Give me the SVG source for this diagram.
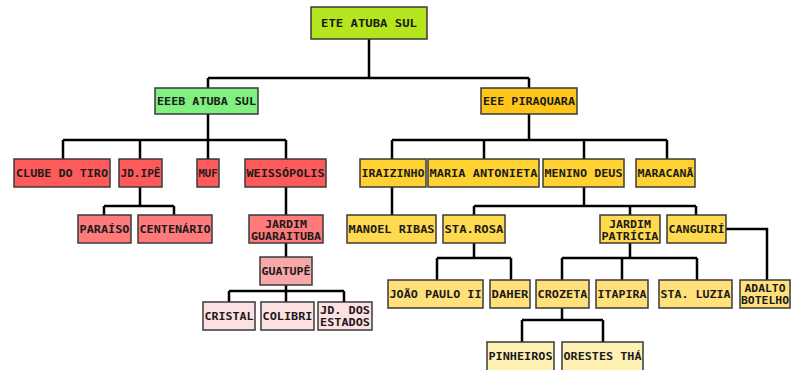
<svg xmlns="http://www.w3.org/2000/svg" width="791" height="370" viewBox="0 0 791 370">
<style>
.b{stroke:#3a3a3a;stroke-width:1.5}
.s{fill:none;stroke:#bbb;stroke-width:1}
text{font-family:"DejaVu Sans Mono","Liberation Mono",monospace;font-weight:bold;font-size:11px;fill:#1a1a1a;text-anchor:middle}
.c{fill:none;stroke:#000;stroke-width:2.5}
.lime{fill:#b5e61d}.grn{fill:#80f080}.gold{fill:#ffc619}
.r1{fill:#ff5a5a}.r2{fill:#ff7b7b}.r3{fill:#f8a8a8}.r4{fill:#fde0e2}
.y1{fill:#ffd232}.y2{fill:#ffd94e}.y3{fill:#ffe07a}.y4{fill:#fff0b4}
</style>
<rect width="791" height="370" fill="#fff"/>
<g id="connectors">
<path class="c" d="M369 39V78M208 78H529M208 78V88M529 78V89"/>
<path class="c" d="M208 114V140M63 140H286M63 140V159M140 140V159M208 140V159M286 140V159"/>
<path class="c" d="M529 114V140M392 140H667M392 140V159M484 140V159M584 140V159M667 140V159"/>
<path class="c" d="M140 187V206M104 206H174M104 206V215M174 206V215"/>
<path class="c" d="M286 187V215M392 187V215"/>
<path class="c" d="M584 187V206M474 206H696M474 206V215M630 206V215M696 206V215"/>
<path class="c" d="M286 243V257M286 285V291M229 291H344M229 291V302M286 291V302M344 291V302"/>
<path class="c" d="M474 243V258M437 258H511M437 258V280M511 258V280"/>
<path class="c" d="M630 243V258M562 258H697M562 258V280M622 258V280M697 258V280"/>
<path class="c" d="M726 229H767V280"/>
<path class="c" d="M562 308V320M522 320H603M522 320V342M603 320V342"/>
</g>
<g id="n-ete"><rect class="b lime" x="311" y="7" width="116" height="32"/><text x="369" y="27" textLength="96" lengthAdjust="spacingAndGlyphs">ETE ATUBA SUL</text></g>
<g id="n-eeeb"><rect class="b grn" x="155" y="88" width="103" height="26"/><text x="206.5" y="105" textLength="99" lengthAdjust="spacingAndGlyphs">EEEB ATUBA SUL</text></g>
<g id="n-eee"><rect class="b gold" x="481" y="88" width="96" height="26"/><text x="529" y="105" textLength="92" lengthAdjust="spacingAndGlyphs">EEE PIRAQUARA</text></g>

<g id="n-clube"><rect class="b r1" x="14" y="159" width="96" height="28"/><text x="62" y="177" textLength="92" lengthAdjust="spacingAndGlyphs">CLUBE DO TIRO</text></g>
<g id="n-jdipe"><rect class="b r1" x="119" y="159" width="43" height="28"/><text x="140.5" y="177" textLength="40" lengthAdjust="spacingAndGlyphs">JD.IPÊ</text></g>
<g id="n-muf"><rect class="b r1" x="197" y="159" width="22" height="28"/><text x="208" y="177" textLength="19" lengthAdjust="spacingAndGlyphs">MUF</text></g>
<g id="n-weiss"><rect class="b r1" x="245" y="159" width="81" height="28"/><text x="285.5" y="177" textLength="78" lengthAdjust="spacingAndGlyphs">WEISSÓPOLIS</text></g>
<g id="n-irai"><rect class="b y1" x="360" y="159" width="66" height="28"/><text x="393" y="177" textLength="63" lengthAdjust="spacingAndGlyphs">IRAIZINHO</text></g>
<g id="n-maria"><rect class="b y1" x="428" y="159" width="111" height="28"/><text x="483.5" y="177" textLength="108" lengthAdjust="spacingAndGlyphs">MARIA ANTONIETA</text></g>
<g id="n-menino"><rect class="b y1" x="543" y="159" width="81" height="28"/><text x="583.5" y="177" textLength="78" lengthAdjust="spacingAndGlyphs">MENINO DEUS</text></g>
<g id="n-maracana"><rect class="b y1" x="636" y="159" width="59" height="28"/><text x="665.5" y="177" textLength="56" lengthAdjust="spacingAndGlyphs">MARACANÃ</text></g>

<g id="n-paraiso"><rect class="b r2" x="78" y="215" width="53" height="28"/><text x="104.5" y="233" textLength="50" lengthAdjust="spacingAndGlyphs">PARAÍSO</text></g>
<g id="n-centenario"><rect class="b r2" x="138" y="215" width="74" height="28"/><text x="175" y="233" textLength="71" lengthAdjust="spacingAndGlyphs">CENTENÁRIO</text></g>
<g id="n-jguara"><rect class="b r2" x="249" y="215" width="74" height="28"/><text x="286" y="228" textLength="42" lengthAdjust="spacingAndGlyphs">JARDIM</text><text x="286" y="240" textLength="70" lengthAdjust="spacingAndGlyphs">GUARAITUBA</text></g>
<g id="n-manoel"><rect class="b y2" x="347" y="215" width="89" height="28"/><text x="391.5" y="233" textLength="86" lengthAdjust="spacingAndGlyphs">MANOEL RIBAS</text></g>
<g id="n-starosa"><rect class="b y2" x="443" y="215" width="62" height="28"/><text x="474" y="233" textLength="59" lengthAdjust="spacingAndGlyphs">STA.ROSA</text></g>
<g id="n-jpatricia"><rect class="b y2" x="600" y="215" width="60" height="28"/><text x="630" y="228" textLength="42" lengthAdjust="spacingAndGlyphs">JARDIM</text><text x="630" y="240" textLength="57" lengthAdjust="spacingAndGlyphs">PATRÍCIA</text></g>
<g id="n-canguiri"><rect class="b y2" x="667" y="215" width="59" height="28"/><text x="696.5" y="233" textLength="56" lengthAdjust="spacingAndGlyphs">CANGUIRÍ</text></g>

<g id="n-guatupe"><rect class="b r3" x="260" y="257" width="52" height="28"/><text x="286" y="275" textLength="49" lengthAdjust="spacingAndGlyphs">GUATUPÊ</text></g>
<g id="n-cristal"><rect class="b r4" x="203" y="302" width="52" height="28"/><text x="229" y="320" textLength="49" lengthAdjust="spacingAndGlyphs">CRISTAL</text></g>
<g id="n-colibri"><rect class="b r4" x="261" y="302" width="53" height="28"/><text x="287.5" y="320" textLength="50" lengthAdjust="spacingAndGlyphs">COLIBRI</text></g>
<g id="n-jdestados"><rect class="b r4" x="318" y="302" width="54" height="28"/><text x="345" y="314" textLength="50" lengthAdjust="spacingAndGlyphs">JD. DOS</text><text x="345" y="326" textLength="50" lengthAdjust="spacingAndGlyphs">ESTADOS</text></g>

<g id="n-joao"><rect class="b y3" x="388" y="280" width="95" height="28"/><text x="435.5" y="298" textLength="92" lengthAdjust="spacingAndGlyphs">JOÃO PAULO II</text></g>
<g id="n-daher"><rect class="b y3" x="490" y="280" width="40" height="28"/><text x="510" y="298" textLength="37" lengthAdjust="spacingAndGlyphs">DAHER</text></g>
<g id="n-crozeta"><rect class="b y3" x="536" y="280" width="53" height="28"/><text x="562.5" y="298" textLength="50" lengthAdjust="spacingAndGlyphs">CROZETA</text></g>
<g id="n-itapira"><rect class="b y3" x="596" y="280" width="52" height="28"/><text x="622" y="298" textLength="49" lengthAdjust="spacingAndGlyphs">ITAPIRA</text></g>
<g id="n-staluzia"><rect class="b y3" x="659" y="280" width="73" height="28"/><text x="695.5" y="298" textLength="70" lengthAdjust="spacingAndGlyphs">STA. LUZIA</text></g>
<g id="n-adalto"><rect class="b y3" x="740" y="280" width="50" height="28"/><text x="765" y="292" textLength="41" lengthAdjust="spacingAndGlyphs">ADALTO</text><text x="765" y="304" textLength="48" lengthAdjust="spacingAndGlyphs">BOTELHO</text></g>

<g id="n-pinheiros"><rect class="b y4" x="487" y="342" width="67" height="30"/><text x="520.5" y="360" textLength="64" lengthAdjust="spacingAndGlyphs">PINHEIROS</text></g>
<g id="n-orestes"><rect class="b y4" x="562" y="342" width="81" height="30"/><text x="602.5" y="360" textLength="78" lengthAdjust="spacingAndGlyphs">ORESTES THÁ</text></g>
</svg>
